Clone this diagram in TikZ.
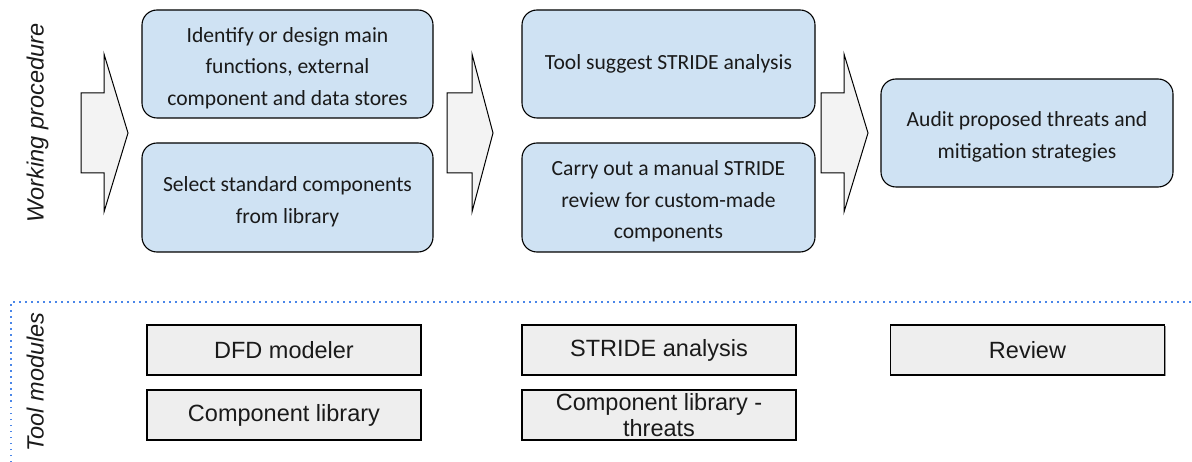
\documentclass[tikz,border=0pt]{standalone}
\usepackage{fontspec}
\setmainfont{Carlito}
\newfontfamily\arial{Liberation Sans}
\usetikzlibrary{shadows}
\definecolor{boxblue}{HTML}{CFE2F3}
\definecolor{arrowgray}{HTML}{F3F3F3}
\definecolor{toolgray}{HTML}{EEEEEE}
\definecolor{dotblue}{HTML}{4A86E8}
\definecolor{txt}{HTML}{1A1A1A}
\newcommand\topstrut{\rule{0pt}{23pt}}
\tikzset{
  stepbox/.style={draw=black, line width=1.1pt, fill=boxblue, rounded corners=15pt,
    align=center, text=txt, inner sep=0pt,
    font=\fontsize{21.6}{31.5}\selectfont},
  toolbox/.style={draw=black, line width=1.4pt, fill=toolgray, align=center, text=txt,
    inner sep=0pt, minimum width=274pt, minimum height=50pt,
    drop shadow={shadow xshift=1.3pt, shadow yshift=-1.3pt, fill=black!40, opacity=1},
    font=\arial\fontsize{23.5}{26}\selectfont},
  blockarrow/.style={draw=black, line width=1pt, fill=arrowgray, line join=miter},
  sidelabel/.style={rotate=90, anchor=base, text=txt, font=\arial\itshape\fontsize{23.5}{28}\selectfont},
  sep/.style={draw=dotblue, line width=1.5pt, dash pattern=on 1.5pt off 4.5pt}
}
\begin{document}
\begin{tikzpicture}[x=1pt, y=-1pt]
\useasboundingbox (0,0) rectangle (1192,462);

% side labels
\node[sidelabel] (wp) at (43.5,123) {Working procedure};
\node[sidelabel] (tm) at (43.5,382) {Tool modules};

% block arrows
\draw[blockarrow] (81,93) -- (104,93) -- (104,54) -- (128,133) -- (104,212) -- (104,173) -- (81,173) -- cycle;
\draw[blockarrow] (447,93) -- (472,93) -- (472,54) -- (493,133) -- (472,212) -- (472,173) -- (447,173) -- cycle;
\draw[blockarrow] (821,93) -- (844,93) -- (844,54) -- (868,133) -- (844,212) -- (844,173) -- (821,173) -- cycle;

% step boxes
\node[stepbox, minimum width=291pt, minimum height=108pt] (b1) at (287.5,64)
  {\topstrut Identify or design main\\functions, external\\component and data stores};
\node[stepbox, minimum width=291pt, minimum height=109pt] (b2) at (287.5,197.5)
  {\topstrut Select standard components\\from library};
\node[stepbox, minimum width=293pt, minimum height=108pt] (b3) at (668.5,64)
  {Tool suggest STRIDE analysis};
\node[stepbox, minimum width=293pt, minimum height=109pt] (b4) at (668.5,197.5)
  {\topstrut Carry out a manual STRIDE\\review for custom-made\\components};
\node[stepbox, minimum width=292pt, minimum height=108pt] (b5) at (1027,133)
  {\topstrut Audit proposed threats and\\mitigation strategies};

% separator
\coordinate (s0) at (11,462);
\coordinate (s1) at (11,302);
\coordinate (s2) at (1192,302);
\draw[sep] (s0) -- (s1) -- (s2);

% tool modules
\node[toolbox] (t1) at (284,350) {DFD modeler};
\node[toolbox] (t2) at (284,415) {Component library};
\node[toolbox] (t3) at (659,350) {STRIDE analysis};
\node[toolbox] (t4) at (659,415) {Component library -\\threats};
\node[toolbox] (t5) at (1027.5,350) {Review};
\end{tikzpicture}
\end{document}
